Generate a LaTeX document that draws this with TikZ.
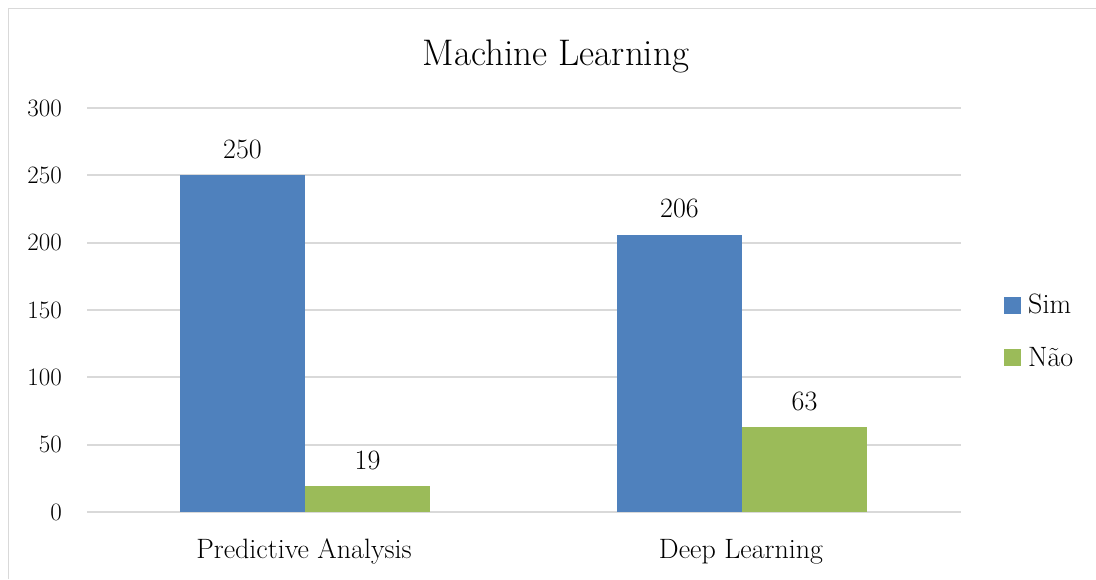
\documentclass[tikz,border=0pt]{standalone}
\usepackage{fontspec}
\definecolor{simblue}{HTML}{4F81BD}
\definecolor{naogreen}{HTML}{9BBB59}
\definecolor{gridgray}{HTML}{D9D9D9}
\tikzset{
  gridline/.style={draw=gridgray, line width=1.8pt},
  simbar/.style={fill=simblue},
  naobar/.style={fill=naogreen},
  ticklbl/.style={anchor=base east, inner sep=0pt, font=\fontsize{25}{28}\selectfont},
  vallbl/.style={anchor=base, inner sep=0pt, font=\fontsize{28}{32}\selectfont},
  catlbl/.style={anchor=base, inner sep=0pt, font=\fontsize{28}{32}\selectfont},
  leglbl/.style={anchor=base west, inner sep=0pt, font=\fontsize{28}{32}\selectfont},
}
\begin{document}
\begin{tikzpicture}[x=1pt,y=-1pt]
\useasboundingbox (0,0) rectangle (1096,579);
\fill[white] (0,0) rectangle (1096,579);
\draw[gridgray, line width=1.5pt] (8.5,579) -- (8.5,8.5) -- (1096,8.5);
% gridlines and tick labels
\foreach \i in {0,...,6}{
  \pgfmathsetmacro{\yy}{512-67.333*\i}
  \pgfmathtruncatemacro{\vv}{50*\i}
  \draw[gridline] (87,\yy) -- (961,\yy);
  \node[ticklbl] (tick\i) at (62,\yy+8) {\vv};
}
% bars
\fill[simbar] (180,512) rectangle (305,{512-250*1.34667});
\fill[naobar] (305,512) rectangle (430,{512-19*1.34667});
\fill[simbar] (617,512) rectangle (742,{512-206*1.34667});
\fill[naobar] (742,512) rectangle (867,{512-63*1.34667});
% value labels
\node[vallbl] (v1) at (242.5,158) {250};
\node[vallbl] (v2) at (367.5,469) {19};
\node[vallbl] (v3) at (679.5,217.5) {206};
\node[vallbl] (v4) at (804.5,410) {63};
% title
\node[anchor=base, inner sep=0pt, font=\fontsize{37}{42}\selectfont] (title) at (556,65) {Machine Learning};
% categories
\node[catlbl] (c1) at (304,558) {Predictive Analysis};
\node[catlbl] (c2) at (741,558) {Deep Learning};
% legend
\fill[simblue] (1004,297) rectangle (1021,314);
\fill[naogreen] (1004,349) rectangle (1021,366);
\node[leglbl] (l1) at (1028,313) {Sim};
\node[leglbl] (l2) at (1028,366) {Não};
\end{tikzpicture}
\end{document}
